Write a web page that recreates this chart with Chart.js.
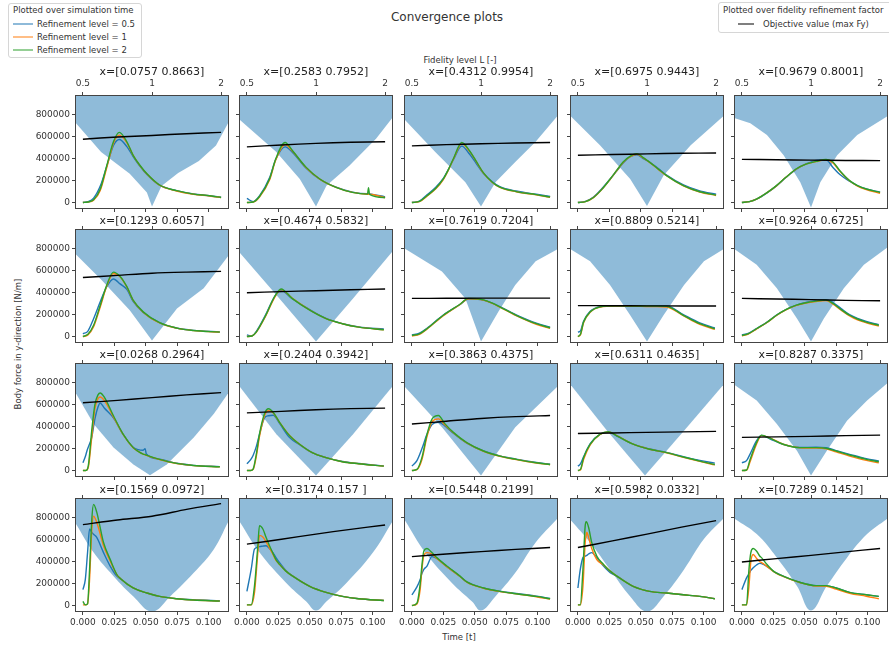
<!DOCTYPE html>
<html>
<head>
<meta charset="utf-8">
<script src="https://cdn.jsdelivr.net/npm/chart.js@4.4.1/dist/chart.umd.min.js"></script>
<style>
  body { margin: 0; background: #fff; font-family: "DejaVu Sans", sans-serif; color: #333; }
  #fig { position: relative; width: 889px; height: 647px; overflow: hidden; background: #fff; }
  #fig canvas { position: absolute; }
  .lbl { position: absolute; white-space: nowrap; transform: translate(-50%, -50%); }
  .legend { position: absolute; background: rgba(255,255,255,0.8); border: 1px solid #d6d6d6; border-radius: 3px; font-size: 8.5px; }
  .legend .row { position: absolute; white-space: nowrap; transform: translateY(-50%); }
  .legend .swatch { position: absolute; height: 0; border-top: 1.5px solid; transform: translateY(-50%); }
</style>
</head>
<body>
<div id="fig">
  <div class="lbl" style="left:447px; top:17px; font-size:12px;">Convergence plots</div>
  <div class="lbl" style="left:460px; top:60px; font-size:8.5px;">Fidelity level L [-]</div>
  <div class="lbl" style="left:459px; top:637px; font-size:8.5px;">Time [t]</div>
  <div class="lbl" style="left:18px; top:344px; font-size:8.5px; transform: translate(-50%, -50%) rotate(-90deg);">Body force in y-direction [N/m]</div>

  <div class="legend" style="left:8px; top:3px; width:132px; height:53px;">
    <div class="row" style="left:4px; top:6px;">Plotted over simulation time</div>
    <div class="swatch" style="left:4px; top:20px; width:20px; border-color:#1f77b4;"></div>
    <div class="row" style="left:28px; top:20px;">Refinement level = 0.5</div>
    <div class="swatch" style="left:4px; top:33px; width:20px; border-color:#ff7f0e;"></div>
    <div class="row" style="left:28px; top:33px;">Refinement level = 1</div>
    <div class="swatch" style="left:4px; top:46px; width:20px; border-color:#2ca02c;"></div>
    <div class="row" style="left:28px; top:46px;">Refinement level = 2</div>
  </div>
  <div class="legend" style="left:718px; top:2px; width:180px; height:29px;">
    <div class="row" style="left:4px; top:7px;">Plotted over fidelity refinement factor</div>
    <div class="swatch" style="left:19px; top:21px; width:16px; border-color:#000;"></div>
    <div class="row" style="left:44px; top:21px;">Objective value (max Fy)</div>
  </div>
</div>
<script>
// subplot titles, row by row
const titles = [
  "x=[0.0757 0.8663]", "x=[0.2583 0.7952]", "x=[0.4312 0.9954]", "x=[0.6975 0.9443]", "x=[0.9679 0.8001]",
  "x=[0.1293 0.6057]", "x=[0.4674 0.5832]", "x=[0.7619 0.7204]", "x=[0.8809 0.5214]", "x=[0.9264 0.6725]",
  "x=[0.0268 0.2964]", "x=[0.2404 0.3942]", "x=[0.3863 0.4375]", "x=[0.6311 0.4635]", "x=[0.8287 0.3375]",
  "x=[0.1569 0.0972]", "x=[0.3174 0.157 ]", "x=[0.5448 0.2199]", "x=[0.5982 0.0332]", "x=[0.7289 0.1452]"
];

// axis ticks
const timeTicks = [0, 0.025, 0.05, 0.075, 0.1];
const fidelityTicks = [0.5, 1, 2];
const forceTicks = [0, 200000, 400000, 600000, 800000];

// fidelity levels of the objective value line
const fidelityLevels = [0.5, 0.707, 1, 1.414, 2];

// simulation time samples per subplot
const times = [
  [0, 0.004, 0.0085, 0.0138, 0.019, 0.0243, 0.029, 0.035, 0.040, 0.0455, 0.051, 0.061, 0.0746, 0.088, 0.101, 0.11],
  [0, 0.005, 0.01, 0.018, 0.023, 0.0304, 0.0365, 0.047, 0.058, 0.071, 0.084, 0.096, 0.0968, 0.0976, 0.11],
  [0, 0.006, 0.012, 0.019, 0.025, 0.029, 0.033, 0.0397, 0.046, 0.051, 0.057, 0.064, 0.070, 0.083, 0.099, 0.11],
  [0, 0.006, 0.0124, 0.019, 0.0257, 0.031, 0.036, 0.042, 0.047, 0.052, 0.057, 0.064, 0.0706, 0.084, 0.097, 0.11],
  [0, 0.006, 0.0116, 0.02, 0.0275, 0.035, 0.0434, 0.051, 0.059, 0.067, 0.0725, 0.078, 0.0857, 0.092, 0.099, 0.11],
  [0, 0.004, 0.0085, 0.0138, 0.019, 0.0243, 0.0296, 0.035, 0.040, 0.048, 0.061, 0.0746, 0.088, 0.109],
  [0, 0.004, 0.0074, 0.015, 0.022, 0.0272, 0.036, 0.050, 0.063, 0.076, 0.089, 0.109],
  [0, 0.006, 0.012, 0.025, 0.038, 0.045, 0.052, 0.057, 0.064, 0.070, 0.083, 0.099, 0.11],
  [0, 0.002, 0.0045, 0.0098, 0.0177, 0.03, 0.05, 0.062, 0.0706, 0.0839, 0.097, 0.109],
  [0, 0.005, 0.0116, 0.02, 0.0275, 0.035, 0.0434, 0.051, 0.059, 0.067, 0.0725, 0.079, 0.0857, 0.092, 0.099, 0.109],
  [0, 0.002, 0.0032, 0.0045, 0.007, 0.0095, 0.012, 0.0138, 0.017, 0.0243, 0.032, 0.040, 0.044, 0.048, 0.0495, 0.0505, 0.061, 0.0746, 0.088, 0.109],
  [0, 0.003, 0.005, 0.0075, 0.01, 0.014, 0.0172, 0.021, 0.026, 0.034, 0.042, 0.052, 0.063, 0.076, 0.089, 0.109],
  [0, 0.004, 0.008, 0.012, 0.016, 0.0211, 0.026, 0.033, 0.0437, 0.057, 0.070, 0.083, 0.099, 0.11],
  [0, 0.002, 0.0045, 0.0098, 0.0177, 0.0243, 0.031, 0.044, 0.057, 0.0706, 0.084, 0.097, 0.109],
  [0, 0.0037, 0.0065, 0.0116, 0.0156, 0.0222, 0.0328, 0.046, 0.059, 0.067, 0.075, 0.0857, 0.099, 0.109],
  [0, 0.0019, 0.0037, 0.0053, 0.0071, 0.0085, 0.011, 0.0164, 0.0217, 0.027, 0.030, 0.040, 0.051, 0.061, 0.075, 0.088, 0.109],
  [0, 0.0034, 0.006, 0.0087, 0.010, 0.0127, 0.0153, 0.018, 0.0206, 0.023, 0.026, 0.031, 0.0365, 0.050, 0.063, 0.076, 0.089, 0.109],
  [0, 0.004, 0.0066, 0.0079, 0.0095, 0.012, 0.0159, 0.0198, 0.0278, 0.0383, 0.0437, 0.057, 0.070, 0.083, 0.099, 0.11],
  [0, 0.0019, 0.004, 0.0058, 0.0066, 0.0071, 0.0085, 0.011, 0.015, 0.0204, 0.0257, 0.031, 0.044, 0.057, 0.0706, 0.084, 0.097, 0.109],
  [0, 0.0037, 0.0056, 0.0071, 0.009, 0.0116, 0.0143, 0.0156, 0.0196, 0.025, 0.0275, 0.0328, 0.046, 0.059, 0.067, 0.075, 0.0857, 0.099, 0.109]
];

// body force, refinement level 0.5
const level05 = [
  [0, 8000, 40000, 150000, 330000, 520000, 575000, 510000, 420000, 330000, 255000, 158000, 108000, 78000, 62000, 48000],
  [37000, 8000, 60000, 225000, 395000, 508000, 455000, 315000, 212000, 140000, 95000, 80000, 80000, 79000, 52000],
  [0, 12000, 70000, 140000, 220000, 300000, 390000, 515000, 440000, 360000, 265000, 190000, 145000, 105000, 75000, 55000],
  [0, 10000, 50000, 125000, 215000, 290000, 360000, 420000, 435000, 400000, 370000, 310000, 250000, 160000, 105000, 75000],
  [0, 8000, 30000, 88000, 152000, 228000, 305000, 352000, 385000, 390000, 320000, 255000, 195000, 155000, 125000, 95000],
  [25000, 50000, 163000, 317000, 455000, 525000, 480000, 430000, 320000, 220000, 126000, 78000, 56000, 42000],
  [15000, 5000, 45000, 200000, 365000, 420000, 345000, 245000, 165000, 118000, 88000, 68000],
  [15000, 30000, 75000, 196000, 290000, 342000, 340000, 332000, 305000, 272000, 198000, 122000, 85000],
  [40000, 50000, 140000, 230000, 272000, 282000, 280000, 280000, 280000, 200000, 125000, 78000],
  [15000, 28000, 72000, 132000, 195000, 246000, 286000, 310000, 326000, 335000, 310000, 255000, 200000, 165000, 138000, 108000],
  [71000, 130000, 178000, 220000, 300000, 470000, 580000, 615000, 570000, 480000, 330000, 212000, 190000, 185000, 200000, 150000, 104000, 66000, 47000, 36000],
  [62000, 100000, 140000, 220000, 330000, 480000, 500000, 505000, 430000, 300000, 235000, 163000, 118000, 82000, 64000, 42000],
  [40000, 90000, 200000, 330000, 420000, 440000, 410000, 340000, 250000, 178000, 134000, 104000, 74000, 58000],
  [40000, 60000, 125000, 245000, 332000, 350000, 315000, 240000, 196000, 165000, 127000, 92000, 68000],
  [71000, 90000, 150000, 270000, 320000, 290000, 238000, 210000, 212000, 208000, 182000, 148000, 108000, 88000],
  [145000, 237000, 483000, 698000, 668000, 650000, 622000, 483000, 360000, 268000, 243000, 160000, 114000, 83000, 62000, 52000, 43000],
  [129000, 329000, 514000, 532000, 538000, 542000, 545000, 520000, 483000, 440000, 391000, 320000, 268000, 175000, 120000, 83000, 62000, 46000],
  [98000, 170000, 237000, 290000, 330000, 360000, 446000, 430000, 355000, 265000, 215000, 160000, 130000, 110000, 85000, 65000],
  [160000, 329000, 437000, 450000, 455000, 458000, 470000, 483000, 437000, 360000, 300000, 268000, 175000, 129000, 114000, 98000, 83000, 62000],
  [145000, 252000, 290000, 320000, 345000, 370000, 385000, 382000, 360000, 315000, 298000, 268000, 212000, 182000, 182000, 160000, 120000, 98000, 83000]
];

// body force, refinement level 1
const level1 = [
  [0, 4000, 20000, 110000, 320000, 540000, 615000, 545000, 430000, 335000, 260000, 158000, 105000, 75000, 60000, 45000],
  [0, 4000, 50000, 205000, 390000, 530000, 465000, 320000, 214000, 138000, 92000, 76000, 76000, 76000, 44000],
  [0, 8000, 58000, 125000, 210000, 295000, 395000, 535000, 465000, 378000, 268000, 183000, 138000, 98000, 70000, 48000],
  [0, 8000, 45000, 118000, 212000, 292000, 365000, 420000, 440000, 408000, 366000, 302000, 244000, 152000, 96000, 64000],
  [0, 8000, 30000, 90000, 152000, 230000, 306000, 350000, 373000, 390000, 360000, 285000, 198000, 150000, 118000, 85000],
  [0, 15000, 90000, 270000, 460000, 575000, 545000, 450000, 330000, 222000, 124000, 76000, 54000, 40000],
  [0, 5000, 38000, 188000, 355000, 428000, 350000, 242000, 164000, 117000, 86000, 62000],
  [5000, 20000, 68000, 190000, 290000, 345000, 342000, 332000, 302000, 268000, 190000, 112000, 75000],
  [0, 15000, 125000, 222000, 268000, 278000, 275000, 273000, 270000, 190000, 112000, 66000],
  [5000, 22000, 68000, 128000, 192000, 243000, 284000, 306000, 320000, 328000, 295000, 240000, 188000, 152000, 125000, 95000],
  [0, 0, 5000, 40000, 300000, 560000, 655000, 671000, 640000, 490000, 330000, 208000, 174000, 149000, 144000, 139000, 101000, 64000, 45000, 33000],
  [0, 0, 10000, 130000, 310000, 500000, 545000, 525000, 440000, 320000, 240000, 163000, 117000, 80000, 62000, 40000],
  [0, 8000, 100000, 310000, 445000, 471000, 420000, 345000, 252000, 176000, 130000, 100000, 69000, 53000],
  [0, 5000, 100000, 235000, 330000, 352000, 318000, 240000, 194000, 162000, 120000, 83000, 52000],
  [0, 3000, 80000, 240000, 318000, 298000, 240000, 208000, 205000, 198000, 170000, 132000, 92000, 70000],
  [6000, 6000, 15000, 237000, 698000, 815000, 760000, 545000, 406000, 283000, 245000, 160000, 114000, 83000, 62000, 50000, 40000],
  [6000, 6000, 114000, 483000, 640000, 625000, 580000, 525000, 470000, 415000, 375000, 314000, 268000, 175000, 120000, 83000, 62000, 46000],
  [0, 15000, 150000, 320000, 460000, 483000, 470000, 430000, 355000, 265000, 213000, 158000, 127000, 106000, 80000, 58000],
  [6000, 6000, 175000, 575000, 640000, 668000, 622000, 520000, 420000, 370000, 314000, 268000, 175000, 129000, 114000, 98000, 83000, 62000],
  [6000, 6000, 175000, 400000, 465000, 430000, 400000, 392000, 360000, 312000, 294000, 266000, 210000, 178000, 176000, 150000, 112000, 85000, 62000]
];

// body force, refinement level 2
const level2 = [
  [0, 5000, 25000, 123000, 338000, 554000, 640000, 554000, 431000, 338000, 262000, 160000, 108000, 77000, 62000, 46000],
  [0, 5000, 55000, 215000, 400000, 548000, 470000, 323000, 215000, 138000, 92000, 77000, 135000, 75000, 46000],
  [0, 10000, 62000, 130000, 215000, 300000, 400000, 548000, 470000, 380000, 270000, 185000, 140000, 100000, 72000, 50000],
  [0, 8000, 46000, 120000, 215000, 295000, 369000, 425000, 446000, 410000, 369000, 305000, 246000, 154000, 98000, 68000],
  [0, 8000, 31000, 90000, 154000, 230000, 308000, 350000, 375000, 394000, 370000, 290000, 200000, 155000, 123000, 92000],
  [0, 20000, 102000, 286000, 471000, 588000, 548000, 455000, 332000, 225000, 126000, 77000, 55000, 40000],
  [0, 5000, 40000, 194000, 363000, 434000, 348000, 240000, 163000, 117000, 86000, 62000],
  [10000, 25000, 71000, 194000, 292000, 348000, 345000, 335000, 305000, 271000, 194000, 117000, 80000],
  [0, 20000, 132000, 225000, 271000, 280000, 278000, 277000, 275000, 194000, 117000, 71000],
  [10000, 25000, 71000, 130000, 194000, 245000, 286000, 308000, 323000, 332000, 302000, 245000, 194000, 160000, 132000, 102000],
  [0, 0, 5000, 60000, 363000, 600000, 690000, 708000, 670000, 500000, 332000, 209000, 175000, 150000, 145000, 140000, 102000, 65000, 46000, 34000],
  [0, 0, 15000, 150000, 332000, 517000, 563000, 530000, 440000, 317000, 240000, 163000, 117000, 80000, 62000, 40000],
  [0, 10000, 120000, 330000, 470000, 502000, 430000, 348000, 255000, 178000, 132000, 102000, 71000, 55000],
  [0, 10000, 117000, 240000, 332000, 354000, 317000, 240000, 194000, 163000, 123000, 86000, 55000],
  [0, 5000, 100000, 255000, 323000, 295000, 240000, 209000, 209000, 203000, 178000, 142000, 102000, 80000],
  [37000, 6000, 15000, 329000, 790000, 923000, 852000, 575000, 421000, 283000, 245000, 160000, 114000, 83000, 62000, 50000, 40000],
  [6000, 6000, 175000, 545000, 729000, 698000, 620000, 545000, 480000, 421000, 375000, 314000, 268000, 175000, 120000, 83000, 62000, 46000],
  [0, 22000, 200000, 360000, 498000, 520000, 483000, 437000, 360000, 268000, 215000, 160000, 129000, 108000, 83000, 62000],
  [6000, 6000, 329000, 729000, 766000, 760000, 714000, 575000, 452000, 375000, 314000, 268000, 175000, 129000, 114000, 98000, 83000, 62000],
  [6000, 6000, 329000, 483000, 520000, 498000, 450000, 437000, 380000, 314000, 295000, 268000, 212000, 182000, 182000, 160000, 120000, 98000, 83000]
];

// objective value (max Fy) at the fidelity levels
const objective = [
  [578000, 598000, 612000, 628000, 640000],
  [508000, 525000, 540000, 550000, 554000],
  [517000, 528000, 536000, 543000, 548000],
  [431000, 438000, 444000, 449000, 452000],
  [394000, 390000, 387000, 384000, 382000],
  [538000, 558000, 578000, 588000, 594000],
  [400000, 410000, 418000, 427000, 434000],
  [348000, 349000, 350000, 350000, 350000],
  [282000, 281000, 280000, 279000, 279000],
  [348000, 342000, 337000, 330000, 326000],
  [618000, 640000, 665000, 690000, 711000],
  [526000, 540000, 555000, 565000, 569000],
  [425000, 450000, 475000, 492000, 502000],
  [338000, 343000, 348000, 353000, 357000],
  [302000, 307000, 312000, 318000, 323000],
  [738000, 781000, 815000, 877000, 930000],
  [560000, 605000, 652000, 695000, 735000],
  [446000, 470000, 492000, 512000, 529000],
  [529000, 590000, 652000, 715000, 775000],
  [397000, 428000, 458000, 490000, 520000]
];

// lower edge of the shaded uncertainty band (band runs up past the top)
const bandLevels = [
  [0.4665, 0.6, 0.8, 0.95, 1.0, 1.1, 1.3, 1.6, 1.9, 2.1435],
  [0.4665, 0.672, 0.85, 1.0, 1.11, 1.4, 1.83, 2.1435],
  [0.4665, 0.632, 0.855, 1.0, 1.156, 1.41, 1.73, 2.1435],
  [0.4665, 0.624, 0.845, 1.0, 1.18, 1.55, 2.1435],
  [0.4665, 0.544, 0.643, 0.76, 0.898, 1.0, 1.098, 1.30, 1.59, 2.1435],
  [0.4665, 0.6, 0.8, 1.0, 1.285, 1.68, 2.1435],
  [0.4665, 0.672, 1.0, 1.45, 2.1435],
  [0.4665, 0.676, 0.855, 1.0, 1.19, 1.41, 1.73, 2.1435],
  [0.4665, 0.565, 0.69, 0.845, 1.0, 1.18, 1.45, 1.77, 2.1435],
  [0.4665, 0.58, 0.71, 0.87, 1.0, 1.136, 1.39, 1.70, 2.1435],
  [0.4665, 0.557, 0.68, 0.83, 0.98, 1.16, 1.52, 1.86, 2.1435],
  [0.4665, 0.672, 1.0, 1.45, 2.1435],
  [0.4665, 0.676, 1.0, 1.41, 2.1435],
  [0.4665, 0.67, 0.98, 1.45, 2.1435],
  [0.4665, 0.58, 0.71, 0.87, 1.0, 1.17, 1.435, 1.755, 2.1435],
  [0.4665, 0.557, 0.68, 0.83, 1.0, 1.2, 1.52, 1.86, 2.1435],
  [0.4665, 0.568, 0.742, 0.907, 1.0, 1.11, 1.357, 1.77, 2.1435],
  [0.4665, 0.572, 0.747, 0.914, 1.0, 1.155, 1.41, 1.73, 2.1435],
  [0.4665, 0.565, 0.69, 0.845, 1.0, 1.18, 1.45, 1.77, 2.1435],
  [0.4665, 0.58, 0.71, 0.87, 1.0, 1.17, 1.435, 1.755, 2.1435]
];
const bandLower = [
  [723000, 462000, 262000, 92000, -37000, 150000, 270000, 380000, 520000, 723000],
  [754000, 462000, 215000, -37000, 154000, 338000, 585000, 770000],
  [754000, 462000, 185000, -37000, 185000, 369000, 554000, 785000],
  [785000, 523000, 215000, -31000, 246000, 523000, 785000],
  [770000, 723000, 615000, 431000, 185000, -46000, 185000, 431000, 615000, 785000],
  [748000, 520000, 240000, -37000, 255000, 440000, 732000],
  [763000, 378000, -46000, 348000, 772000],
  [800000, 594000, 348000, -46000, 225000, 471000, 686000, 794000],
  [794000, 686000, 471000, 194000, -46000, 194000, 471000, 686000, 794000],
  [794000, 655000, 440000, 163000, -46000, 163000, 440000, 655000, 809000],
  [702000, 425000, 209000, 55000, -43000, 55000, 302000, 517000, 702000],
  [763000, 332000, -46000, 332000, 763000],
  [763000, 394000, -46000, 394000, 763000],
  [778000, 363000, -46000, 363000, 778000],
  [778000, 640000, 425000, 178000, -46000, 178000, 455000, 640000, 794000],
  [745000, 483000, 268000, 83000, -55000, 83000, 298000, 514000, 760000],
  [760000, 483000, 206000, 37000, -46000, 37000, 206000, 483000, 760000],
  [775000, 483000, 206000, 37000, -46000, 83000, 298000, 575000, 790000],
  [775000, 575000, 329000, 83000, -55000, 83000, 329000, 606000, 790000],
  [790000, 652000, 437000, 175000, -46000, 175000, 437000, 652000, 790000]
];

// layout of the 4 x 5 grid
const plotLefts = [76, 240, 404.5, 570.5, 735];
const plotTops = [96, 230, 364, 499];
const plotW = 152, plotH = 112;
const padL = 70, padR = 14, padT = 40, padB = 25;

const textColor = "#333";
const axisColor = "#444";
const font = { family: "DejaVu Sans", size: 9 };

const frame = {
  id: "frame",
  afterDraw(chart) {
    const { ctx, chartArea: a } = chart;
    ctx.save();
    ctx.strokeStyle = axisColor;
    ctx.lineWidth = 1;
    ctx.strokeRect(a.left - 0.5, a.top - 0.5, a.right - a.left + 1, a.bottom - a.top + 1);
    ctx.restore();
  }
};

function pts(xs, ys) {
  return xs.map((x, i) => ({ x: x, y: ys[i] }));
}

const tickGrid = { drawOnChartArea: false, drawTicks: true, tickLength: 4, color: axisColor, lineWidth: 1 };

function makeChart(i) {
  const row = Math.floor(i / 5), col = i % 5;
  const canvas = document.createElement("canvas");
  canvas.width = padL + plotW + padR;
  canvas.height = padT + plotH + padB;
  canvas.style.left = (plotLefts[col] - padL) + "px";
  canvas.style.top = (plotTops[row] - padT) + "px";
  document.getElementById("fig").appendChild(canvas);

  const curve = (label, vals, color, order) => ({
    label: label, data: pts(times[i], vals), xAxisID: "x", yAxisID: "y",
    borderColor: color, borderWidth: 1.4, pointRadius: 0, fill: false,
    cubicInterpolationMode: "monotone", order: order
  });

  new Chart(canvas, {
    type: "line",
    data: {
      datasets: [
        {
          label: "band", data: pts(bandLevels[i], bandLower[i]), xAxisID: "x2", yAxisID: "y",
          borderWidth: 0, pointRadius: 0, backgroundColor: "rgba(31,119,180,0.5)",
          fill: "end", tension: row === 3 ? 0.4 : 0, order: 5
        },
        curve("Refinement level = 0.5", level05[i], "#1f77b4", 3),
        curve("Refinement level = 1", level1[i], "#ff7f0e", 2),
        curve("Refinement level = 2", level2[i], "#2ca02c", 1),
        {
          label: "Objective value (max Fy)", data: pts(fidelityLevels, objective[i]), xAxisID: "x2", yAxisID: "y",
          borderColor: "#000", borderWidth: 1.4, pointRadius: 0, fill: false, tension: 0.3, order: 0
        }
      ]
    },
    options: {
      responsive: false,
      animation: false,
      layout: { padding: { right: padR } },
      plugins: { legend: { display: false }, tooltip: { enabled: false } },
      scales: {
        x: {
          type: "linear", position: "bottom", min: -0.0055, max: 0.1155,
          afterBuildTicks: s => { s.ticks = timeTicks.map(v => ({ value: v })); },
          afterFit: s => { s.height = padB; },
          ticks: { display: row === 3, callback: v => v.toFixed(3), font: font, color: textColor, padding: 2, maxRotation: 0, autoSkip: false },
          grid: tickGrid, border: { display: false }
        },
        x2: {
          type: "logarithmic", position: "top", min: Math.pow(2, -1.1), max: Math.pow(2, 1.1),
          afterBuildTicks: s => { s.ticks = fidelityTicks.map(v => ({ value: v })); },
          afterFit: s => { s.height = padT; },
          ticks: { display: row === 0, callback: v => String(v), font: font, color: textColor, padding: 3, maxRotation: 0, autoSkip: false },
          grid: tickGrid, border: { display: false },
          title: {
            display: true, text: titles[i], color: "#222",
            font: { family: "DejaVu Sans", size: 11 },
            padding: { top: row === 0 ? 9.4 : 24.1, bottom: 0 }
          }
        },
        y: {
          type: "linear", position: "left", min: -50000, max: 972000,
          afterBuildTicks: s => { s.ticks = forceTicks.map(v => ({ value: v })); },
          afterFit: s => { s.width = padL; },
          ticks: { display: col === 0, callback: v => String(v), font: font, color: textColor, padding: 2 },
          grid: tickGrid, border: { display: false }
        }
      }
    },
    plugins: [frame]
  });
}

for (let i = 0; i < 20; i++) makeChart(i);
</script>
</body>
</html>
